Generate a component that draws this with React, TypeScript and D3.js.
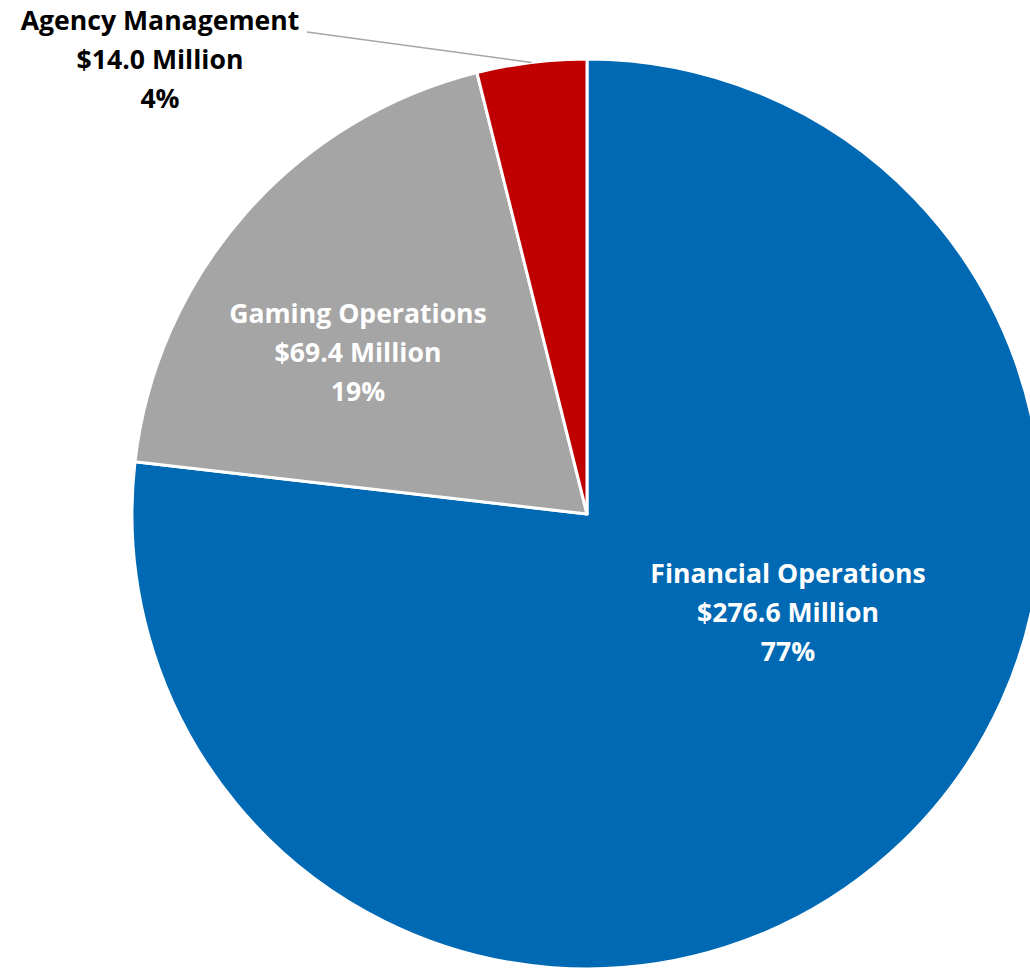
import React, { useEffect, useRef } from 'react';
import * as d3 from 'd3';

const categories = ['Financial Operations', 'Gaming Operations', 'Agency Management'];
const amounts = [276.6, 69.4, 14.0];
const percents = ['77%', '19%', '4%'];
const colors = ['#0069b4', '#a5a5a5', '#c00000'];

const App: React.FC = () => {
  const svgRef = useRef<SVGSVGElement>(null);

  useEffect(() => {
    if (!svgRef.current) return;
    document.body.style.margin = '0';

    d3.select(svgRef.current).selectAll('*').remove();

    const width = 1030;
    const height = 968;
    const cx = 587;
    const cy = 514;
    const radius = 455;

    const svg = d3.select(svgRef.current)
      .attr('width', width)
      .attr('height', height);

    const g = svg.append('g')
      .attr('transform', `translate(${cx},${cy})`);

    const data = categories.map((name, i) => ({ name, value: amounts[i], pct: percents[i], color: colors[i] }));

    const pie = d3.pie<typeof data[0]>()
      .sort(null)
      .value(d => d.value);

    const arc = d3.arc<d3.PieArcDatum<typeof data[0]>>()
      .innerRadius(0)
      .outerRadius(radius);

    const arcs = pie(data);

    g.selectAll('path')
      .data(arcs)
      .join('path')
        .attr('d', arc)
        .attr('fill', d => d.data.color)
        .attr('stroke', '#fff')
        .attr('stroke-width', 3)
        .attr('stroke-linejoin', 'round');

    // label placement (absolute, like the hand-moved Excel labels)
    const labelPos = [
      { x: 788, y: 573, fill: '#fff' },
      { x: 358, y: 313, fill: '#fff' },
      { x: 160, y: 20, fill: '#000' },
    ];
    const lineGap = 39;

    const labels = svg.append('g')
      .attr('font-family', '"Open Sans", Lato, sans-serif')
      .attr('font-weight', 'bold')
      .attr('font-size', 26.6)
      .attr('text-anchor', 'middle');

    arcs.forEach((d, i) => {
      const p = labelPos[i];
      const t = labels.append('text')
        .attr('fill', p.fill)
        .attr('dominant-baseline', 'central');
      [d.data.name, `$${d.data.value.toFixed(1)} Million`, d.data.pct].forEach((line, j) => {
        t.append('tspan')
          .attr('x', p.x)
          .attr('y', p.y + j * lineGap)
          .text(line);
      });
    });

    // leader line for the small slice
    const small = arcs[2];
    const edge = d3.arc<d3.PieArcDatum<typeof data[0]>>()
      .innerRadius(radius)
      .outerRadius(radius);
    const [ex, ey] = edge.centroid(small);
    svg.append('polyline')
      .attr('points', `307,32 ${cx + ex},${cy + ey}`)
      .attr('fill', 'none')
      .attr('stroke', '#a6a6a6')
      .attr('stroke-width', 1.5);
  }, []);

  return (
    <div style={{ width: 1030, height: 968 }}>
      <svg ref={svgRef} style={{ display: 'block' }}></svg>
    </div>
  );
};

export default App;
